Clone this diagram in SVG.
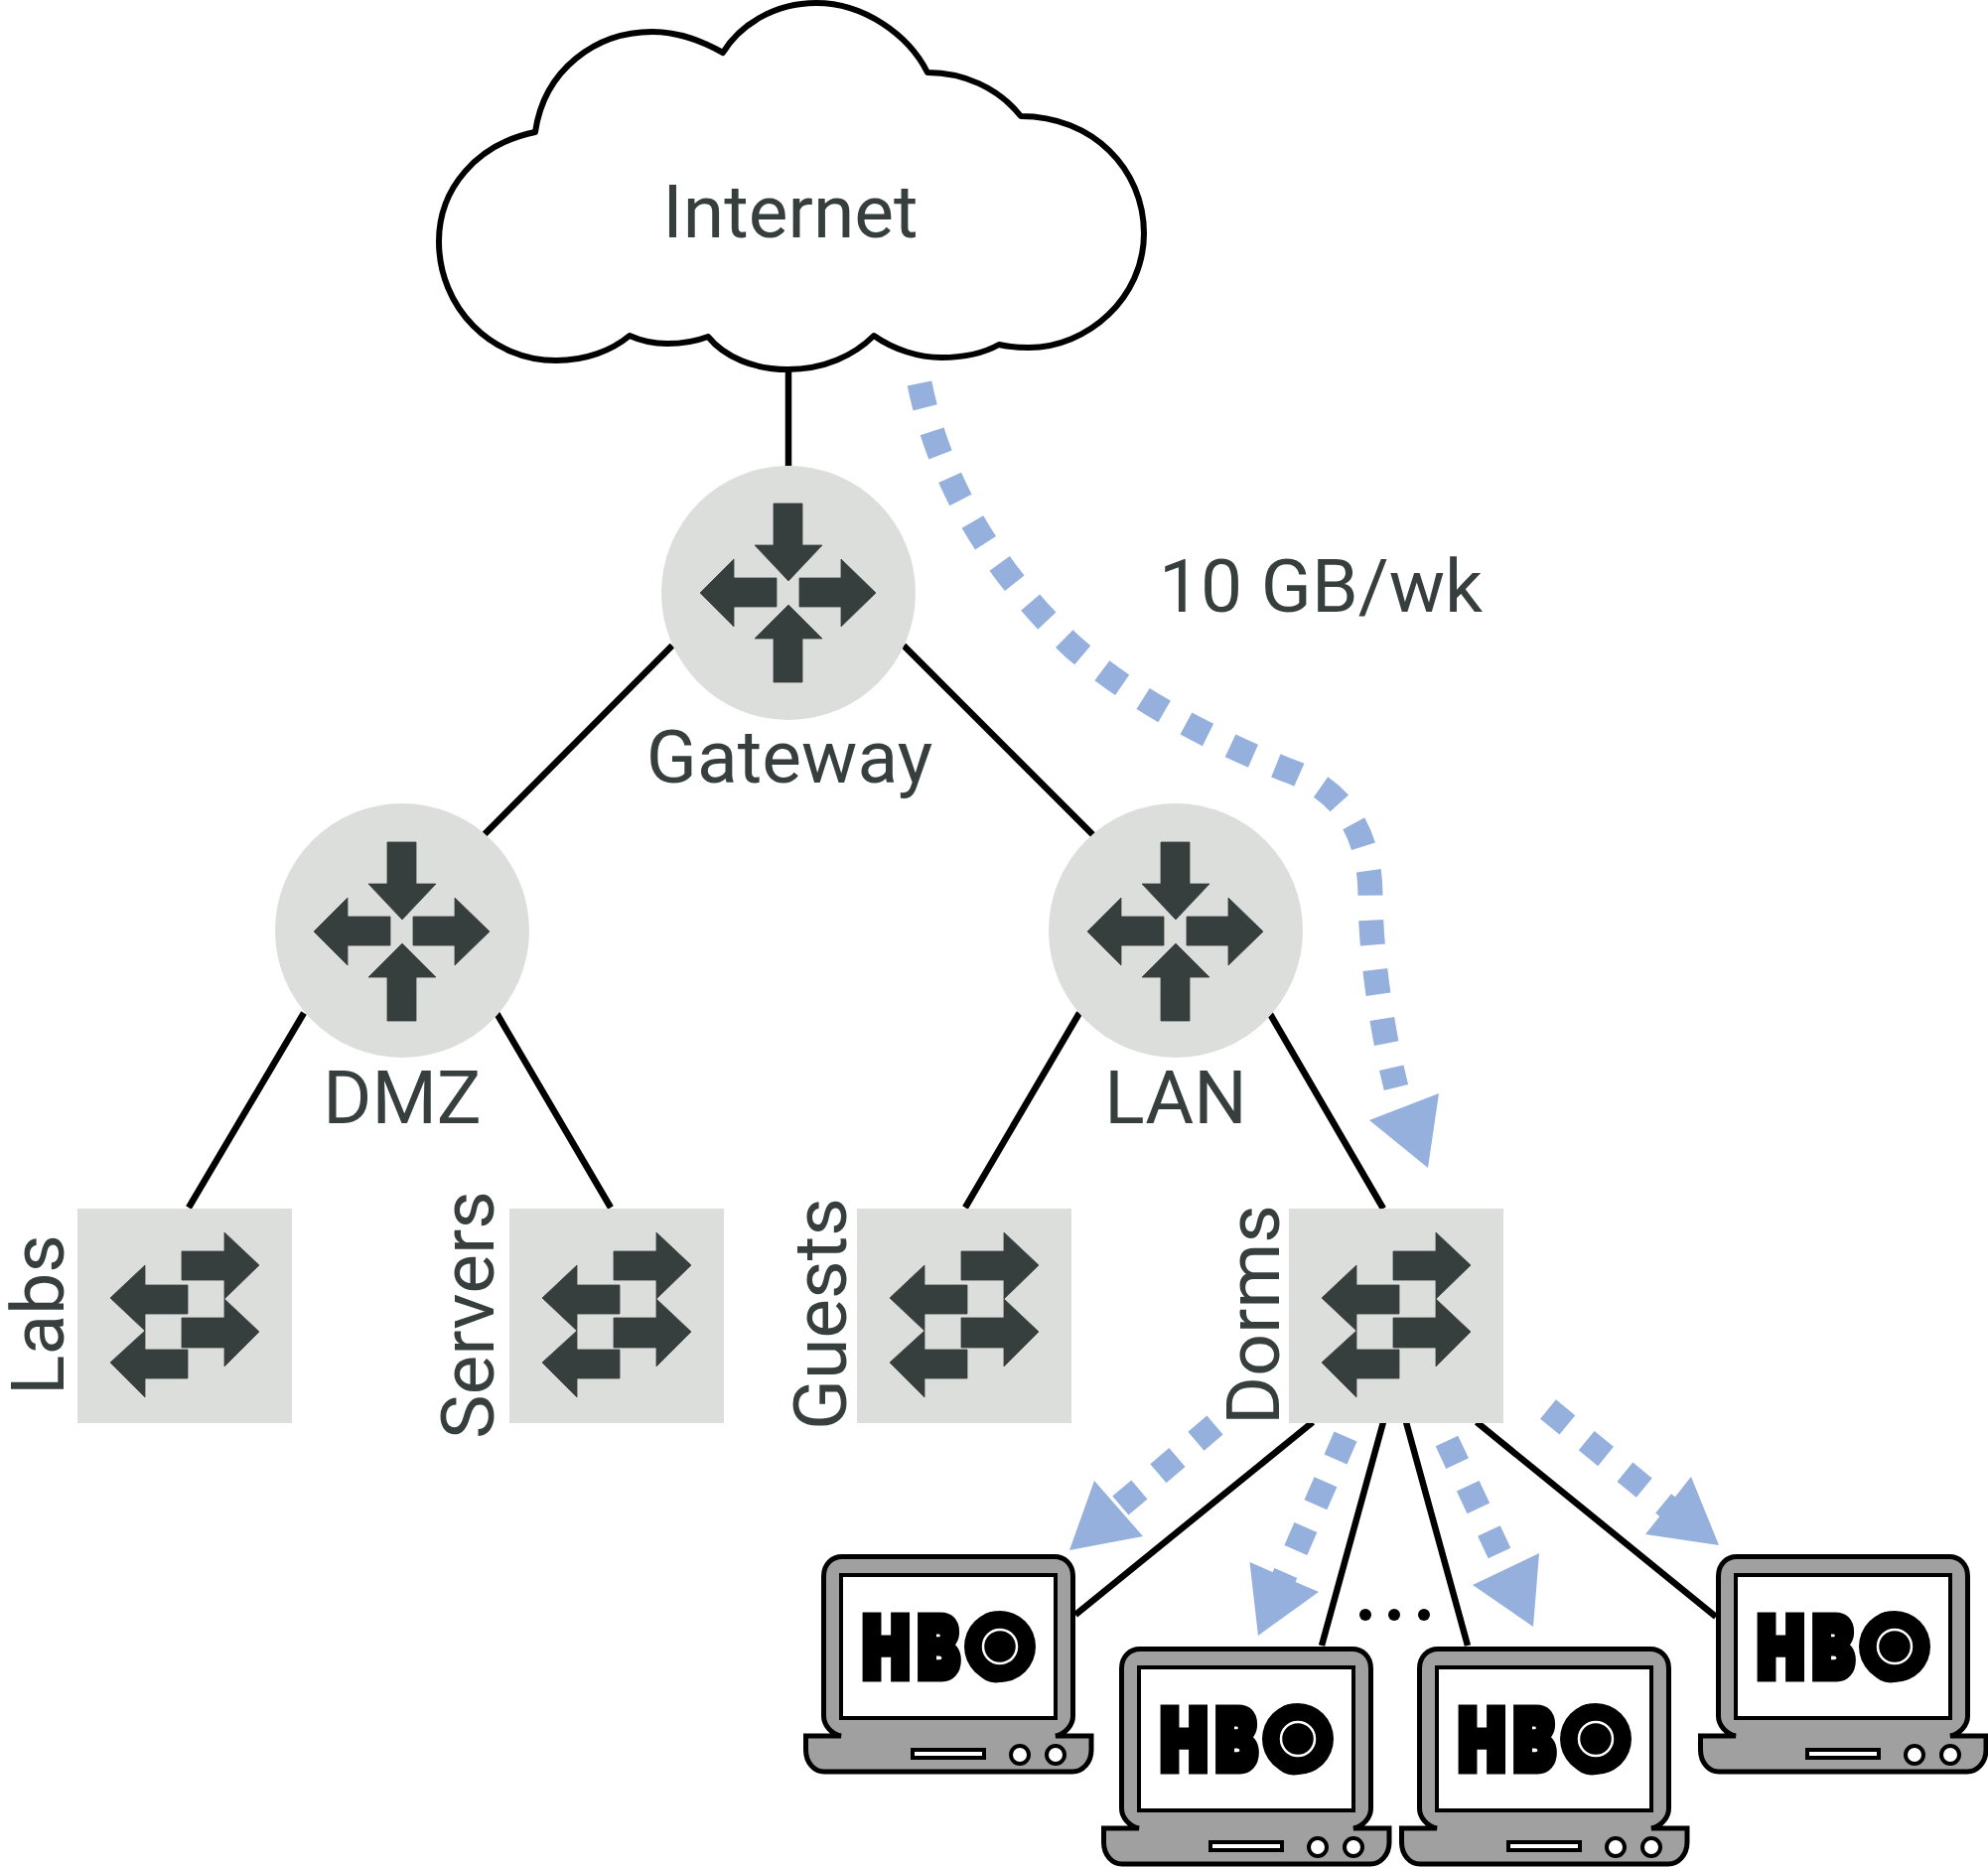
<svg xmlns="http://www.w3.org/2000/svg" xmlns:xlink="http://www.w3.org/1999/xlink" width="2002" height="1881" viewBox="0 0 2002 1881">
<style>
.lbl{font-family:Roboto,"Liberation Sans",sans-serif;font-size:75px;fill:#373f3e;text-anchor:middle}
.ln{stroke:#000;stroke-width:6.500;fill:none}
.dash{stroke:#95b0dc;stroke-width:25;fill:none;stroke-dasharray:25 25}
.head{fill:#95b0dc}
.bg{fill:#dcdedc}
.ic{fill:#373f3e;stroke:#373f3e;stroke-width:.8;stroke-linejoin:round}
.hbo{font-family:Inter,"Liberation Sans",sans-serif;font-weight:900;font-size:84px;fill:#000;stroke:#000;stroke-width:9;stroke-linejoin:miter}
</style>
<defs>
<g id="routerIcon">
<path class="ic" d="M-15 -90H14V-48H34L0 -12L-34 -48H-15Z"/>
<path class="ic" d="M-15 90H14V46H34L0 12L-34 46H-15Z"/>
<path class="ic" d="M-12 -15V14H-55V34L-89 0L-55 -34V-15Z"/>
<path class="ic" d="M11 -15V14H53V34L88 0L53 -34V-15Z"/>
</g>
<g id="switchIcon">
<rect class="bg" x="0" y="0" width="216" height="216"/>
<path class="ic" d="M105 43H148V24L183 57L148 91V72H105Z"/>
<path class="ic" d="M105 110H148V91L183 124L148 159V140H105Z"/>
<path class="ic" d="M111 77H68V57L33 90L68 123V106H111Z"/>
<path class="ic" d="M111 142H68V123L33 155L68 190V171H111Z"/>
</g>
<g id="laptop">
<path d="M847 1748C837 1746 829.500 1737 829.500 1728V1587C829.500 1575 838 1567.500 848 1567.500H1062C1072 1567.500 1080.500 1575 1080.500 1587V1728C1080.500 1737 1073 1746 1063 1748H1099V1762C1099 1775 1090 1784 1080 1784H830C820 1784 811.500 1775 811.500 1762V1748Z" fill="#a0a0a0" stroke="#000" stroke-width="5"/>
<rect x="847" y="1586" width="216" height="144" fill="#fff" stroke="#000" stroke-width="4"/>
<rect x="919" y="1762" width="72" height="8" fill="#fff" stroke="#000" stroke-width="4"/>
<circle cx="1027" cy="1767" r="9" fill="#fff" stroke="#000" stroke-width="4"/>
<circle cx="1063" cy="1767" r="9" fill="#fff" stroke="#000" stroke-width="4"/>
</g>
<g id="hboRing">
<circle cx="1007" cy="1658" r="36" fill="#000"/>
<circle cx="1007" cy="1658" r="17" fill="none" stroke="#fff" stroke-width="2.500"/>
</g>
</defs>
<rect width="2002" height="1881" fill="#fff"/>
<g id="connectors">
<path class="ln" d="M794 372V469"/>
<path class="ln" d="M677 650L488 840"/>
<path class="ln" d="M910 650L1101 841"/>
<path class="ln" d="M306 1020L190 1216"/>
<path class="ln" d="M500 1020L615 1216"/>
<path class="ln" d="M1087 1020L972 1216"/>
<path class="ln" d="M1279 1021L1393 1217"/>
<path class="ln" d="M1322 1432L1083 1626"/>
<path class="ln" d="M1393 1432L1331 1657"/>
<path class="ln" d="M1416 1432L1478 1657"/>
<path class="ln" d="M1487 1432L1728 1628"/>
<path class="dash" d="M926 386C945 480 995 570 1080 651C1130 695 1200 737 1295 775C1345 792 1379 830 1380 900C1380 960 1392 1040 1406 1095"/>
<polygon class="head" points="1449,1101 1379,1128 1438,1176"/>
<path class="dash" d="M1223.500 1435L1125 1519"/>
<polygon class="head" points="1102,1491 1077,1561 1151,1547"/>
<path class="dash" d="M1355 1446.500L1290 1595"/>
<polygon class="head" points="1258.500,1573 1267,1647 1328,1603"/>
<path class="dash" d="M1457 1451L1510 1564"/>
<polygon class="head" points="1550,1564 1483,1596 1544,1638"/>
<path class="dash" d="M1559 1419L1696 1531"/>
<polygon class="head" points="1703,1487 1657,1545 1731,1556"/>
</g>
<g id="internet">
<path d="M539 133C548 70 600 32 657 32C685 32 708 42 728 53C745 25 780 3 822 3C870 3 915 35 934 73C970 73 1005 88 1028 117C1100 117 1152 170 1152 235C1152 300 1095 350 1036 350C1025 350 1015 349 1006 347C990 356 970 360 948 360C925 360 900 352 880 338C860 358 830 372 793 372C760 372 730 360 713 339C700 344 685 346 672 346C658 346 645 343 634 338C616 353 590 363 560 363C495 363 442 310 442 243C442 190 480 145 539 133Z" fill="#fff" stroke="#000" stroke-width="6" stroke-linejoin="round"/>
<text class="lbl" x="796" y="239">Internet</text>
</g>
<g id="gateway">
<circle class="bg" cx="794" cy="597" r="128"/>
<use href="#routerIcon" x="794" y="597"/>
<text class="lbl" x="795" y="788">Gateway</text>
</g>
<g id="dmz">
<circle class="bg" cx="405" cy="937" r="128"/>
<use href="#routerIcon" x="405" y="938"/>
<text class="lbl" x="405" y="1131">DMZ</text>
</g>
<g id="lan">
<circle class="bg" cx="1184" cy="937" r="128"/>
<use href="#routerIcon" x="1184" y="938"/>
<text class="lbl" x="1184" y="1131">LAN</text>
</g>
<g id="labs">
<use href="#switchIcon" x="78" y="1217"/>
<text class="lbl" transform="translate(64 1324) rotate(-90)">Labs</text>
</g>
<g id="servers">
<use href="#switchIcon" x="513" y="1217"/>
<text class="lbl" transform="translate(497 1324) rotate(-90)">Servers</text>
</g>
<g id="guests">
<use href="#switchIcon" x="863" y="1217"/>
<text class="lbl" transform="translate(852 1323) rotate(-90)">Guests</text>
</g>
<g id="dorms">
<use href="#switchIcon" x="1298" y="1217"/>
<text class="lbl" transform="translate(1288 1324) rotate(-90)">Dorms</text>
</g>
<g id="traffic-label">
<text class="lbl" x="1330" y="616">10 GB/wk</text>
</g>
<g id="ellipsis">
<circle cx="1375" cy="1626" r="6"/><circle cx="1404" cy="1626" r="6"/><circle cx="1434" cy="1626" r="6"/>
</g>
<g id="laptop1">
<use href="#laptop"/>
<text class="hbo" transform="translate(869 1688.500) scale(.74 1)" x="0 75 148">HBO</text>
<use href="#hboRing"/>
</g>
<g id="laptop2" transform="translate(300 93)">
<use href="#laptop"/>
<text class="hbo" transform="translate(869 1688.500) scale(.74 1)" x="0 75 148">HBO</text>
<use href="#hboRing"/>
</g>
<g id="laptop3" transform="translate(600 93)">
<use href="#laptop"/>
<text class="hbo" transform="translate(869 1688.500) scale(.74 1)" x="0 75 148">HBO</text>
<use href="#hboRing"/>
</g>
<g id="laptop4" transform="translate(901 0)">
<use href="#laptop"/>
<text class="hbo" transform="translate(869 1688.500) scale(.74 1)" x="0 75 148">HBO</text>
<use href="#hboRing"/>
</g>
</svg>
